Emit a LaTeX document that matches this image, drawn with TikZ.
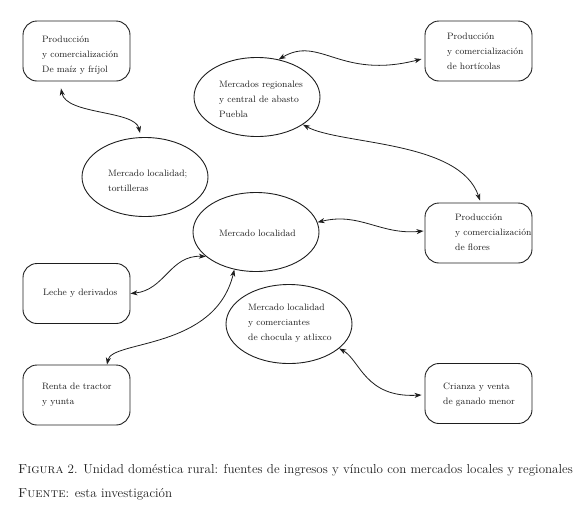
\documentclass[tikz,border=0pt]{standalone}
\usetikzlibrary{arrows.meta,shapes.geometric}
\definecolor{ink}{HTML}{1E1E1E}
\begin{document}
\begin{tikzpicture}[x=1pt,y=-1pt,
  every node/.style={inner sep=0pt},
  rbox/.style={draw=ink,line width=0.9pt,rounded corners=14pt,minimum width=107pt,minimum height=60pt},
  ell/.style={draw=ink,line width=0.9pt,ellipse,minimum width=126pt,minimum height=79pt},
  lab/.style={anchor=west,align=left,text=ink,font=\fontsize{9.3}{15}\selectfont},
  link/.style={draw=ink,line width=0.8pt,{Stealth[length=7pt,width=5pt,inset=2pt]}-{Stealth[length=7pt,width=5pt,inset=2pt]}},
  captext/.style={anchor=west,text=ink,font=\fontsize{13}{15}\selectfont}]
\path[use as bounding box] (0,0) rectangle (580,520);
% boxes
\node[rbox] (A) at (76.5,51) {};
\node[rbox] (hort) at (478.5,51) {};
\node[rbox] (flor) at (478.5,233) {};
\node[rbox] (leche) at (76.5,293.5) {};
\node[rbox] (renta) at (76.5,395) {};
\node[rbox] (cria) at (478.5,393.5) {};
% ellipses
\node[ell] (mr) at (257,97) {};
\node[ell] (tort) at (145,177) {};
\node[ell] (ml) at (256,232) {};
\node[ell] (com) at (289,324) {};
% texts
\node[lab] (tA) at (42,55) {Producción\\y comercialización\\De maíz y fríjol};
\node[lab] (thort) at (447,51) {Producción\\y comercialización\\de hortícolas};
\node[lab] (tmr) at (219,99) {Mercados regionales\\y central de abasto\\Puebla};
\node[lab] (ttort) at (108,181) {Mercado localidad;\\tortilleras};
\node[lab] (tml) at (219,233) {Mercado localidad};
\node[lab] (tflor) at (455,232) {Producción\\y comercialización\\de flores};
\node[lab] (tleche) at (43,293) {Leche y derivados};
\node[lab] (tcom) at (248,323) {Mercado localidad\\y comerciantes\\de chocula y atlixco};
\node[lab] (trenta) at (42,395) {Renta de tractor\\y yunta};
\node[lab] (tcria) at (443,395) {Crianza y venta\\de ganado menor};
% connectors
\draw[link] ([xshift=-15.5pt,yshift=-7pt]A.south) .. controls (66,115) and (135,110) .. ([xshift=-5pt,yshift=4pt]tort.north);
\draw[link] (mr.60) .. controls (320,35) and (340,80) .. ([xshift=-3pt,yshift=-8pt]hort.west);
\draw[link] (mr.-31) .. controls (340,145) and (460,140) .. ([xshift=1.5pt,yshift=2pt]flor.north);
\draw[link] (ml.9) .. controls (360,212) and (380,235) .. ([xshift=-1pt,yshift=2pt]flor.west);
\draw[link] (leche.east) .. controls (165,290) and (170,255) .. (ml.-154);
\draw[link] ([xshift=30.5pt]renta.north) .. controls (112,340) and (215,350) .. (ml.-120);
\draw[link] (com.-26) .. controls (360,360) and (365,398) .. ([xshift=-3pt,yshift=-1.5pt]cria.west);
% caption
\node[captext] (c1) at (18,470) {\textsc{Figura} 2. Unidad doméstica rural: fuentes de ingresos y vínculo con mercados locales y regionales};
\node[captext] (c2) at (18,494) {\textsc{Fuente}: esta investigación};
\end{tikzpicture}
\end{document}
